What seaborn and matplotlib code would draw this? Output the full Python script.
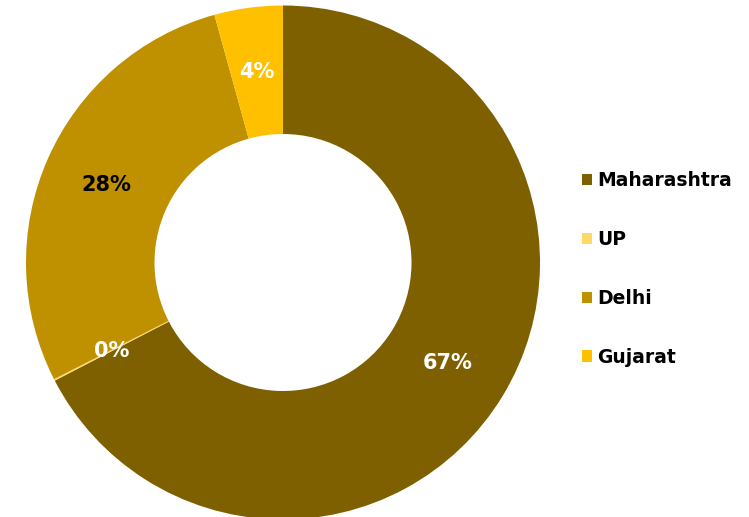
import matplotlib
matplotlib.use("Agg")
import matplotlib.pyplot as plt
from matplotlib.patches import Patch
import seaborn as sns

# State-wise share (percent)
states = ["Maharashtra", "UP", "Delhi", "Gujarat"]
shares = [67.4, 0.1, 28.2, 4.3]
colors = ["#7F6000", "#FFD966", "#BF9000", "#FFC000"]
label_colors = ["white", "white", "black", "white"]

sns.set_theme(style="white")
plt.rcParams["font.family"] = ["DejaVu Sans"]

W, H = 749, 517
fig = plt.figure(figsize=(W / 100, H / 100), dpi=100)
fig.patch.set_facecolor("white")

# donut centred at (283, 262.5) px from top-left, outer radius 257 px
cx, cy, r = 283, 262.5, 257
ax = fig.add_axes([(cx - r) / W, (H - cy - r) / H, 2 * r / W, 2 * r / H])

wedges, texts, autotexts = ax.pie(
    shares,
    colors=colors,
    startangle=90,
    counterclock=False,
    radius=1.0,
    autopct="%.0f%%",
    pctdistance=0.75,
    wedgeprops=dict(width=0.5, linewidth=0),
    textprops=dict(fontsize=15, fontweight="bold"),
)
for t, c in zip(autotexts, label_colors):
    t.set_color(c)

ax.set_xlim(-1, 1)
ax.set_ylim(-1, 1)
ax.set_aspect("equal")
ax.axis("off")

handles = [Patch(facecolor=c, edgecolor="none") for c in colors]
leg = fig.legend(
    handles,
    states,
    loc="center left",
    bbox_to_anchor=(574 / W, 1 - 269 / H),
    frameon=False,
    prop=dict(weight="bold", size=13.5),
    handlelength=0.55,
    handleheight=0.55,
    handletextpad=0.3,
    labelspacing=2.12,
    borderaxespad=0,
)
for t in leg.get_texts():
    t.set_color("black")

fig.savefig("out.png", dpi=100, facecolor="white")
